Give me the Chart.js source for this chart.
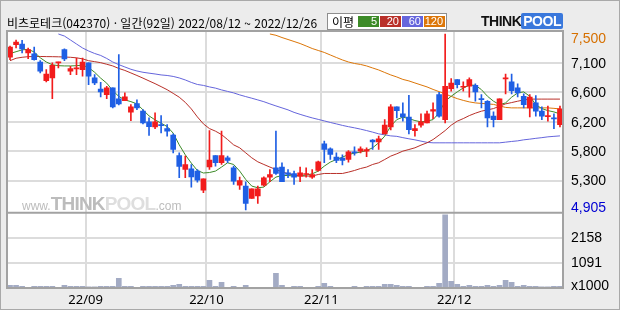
<!DOCTYPE html>
<html lang="ko">
<head>
<meta charset="utf-8">
<title>비츠로테크 일간</title>
<script src="https://cdn.jsdelivr.net/npm/chart.js@4.4.1/dist/chart.umd.min.js"></script>
<style>
  html, body { margin: 0; padding: 0; }
  body {
    width: 620px; height: 310px; overflow: hidden; position: relative;
    background: #ececec;
    font-family: "Noto Sans CJK KR", "Noto Sans", sans-serif;
  }
  #chart { position: absolute; left: 0; top: 0; }
  .frame {
    position: absolute; left: 0; top: 0; width: 620px; height: 310px;
    box-sizing: border-box; border: 1px solid #a9a9a9; pointer-events: none;
  }
  #title {
    position: absolute; left: 7px; top: 14px; font-size: 12px; line-height: 17px;
    color: #000; white-space: nowrap;
  }
  #ma {
    position: absolute; left: 327px; top: 13px; width: 118px; height: 15px;
    border: 1px solid #8e8e8e; background: #fff; font-size: 12px; line-height: 15px;
  }
  #ma .lbl { position: absolute; left: 4px; top: 0; }
  #ma .box {
    position: absolute; top: 2px; width: 21px; height: 11px; color: #fff;
    font: 11px/11px "Liberation Sans", sans-serif; text-align: right;
    box-sizing: border-box; padding-right: 2px;
  }
  #logo { position: absolute; left: 481px; top: 13px; height: 16px; white-space: nowrap;
    font: bold 14px/16px "Liberation Sans", sans-serif; letter-spacing: -0.5px; }
  #logo .think { color: #111; }
  #logo .pool { color: #fff; background: #3a78dc; padding: 0 2px; border-radius: 2px; }
  #mark { position: absolute; left: 22px; top: 193px; white-space: nowrap;
    font-family: "Liberation Sans", sans-serif; color: #bcbcbc; }
  #mark .s { font-size: 12px; }
  #mark .b { font-size: 19px; font-weight: bold; letter-spacing: -0.8px; }
  #mark .l { color: #dedede; }
</style>
</head>
<body>
<canvas id="chart" width="620" height="310"></canvas>
<div id="mark"><span class="s">www.</span><span class="b">THINK</span><span class="b l">POOL</span><span class="s">.com</span></div>
<div id="title">비츠로테크(042370) · 일간(92일) 2022/08/12 ~ 2022/12/26</div>
<div id="ma"><span class="lbl">이평</span></div>
<div id="logo"><span class="think">THINK</span><span class="pool">POOL</span></div>
<div class="frame"></div>
<script>
// trading days 2022/08/12 ~ 2022/12/26
const days = [
  '08/12','08/16','08/17','08/18','08/19','08/22','08/23','08/24','08/25','08/26','08/29','08/30','08/31',
  '09/01','09/02','09/05','09/06','09/07','09/08','09/13','09/14','09/15','09/16','09/19','09/20','09/21',
  '09/22','09/23','09/26','09/27','09/28','09/29','09/30',
  '10/04','10/05','10/06','10/07','10/11','10/12','10/13','10/14','10/17','10/18','10/19','10/20','10/21',
  '10/24','10/25','10/26','10/27','10/28','10/31',
  '11/01','11/02','11/03','11/04','11/07','11/08','11/09','11/10','11/11','11/14','11/15','11/16','11/17',
  '11/18','11/21','11/22','11/23','11/24','11/25','11/28','11/29','11/30',
  '12/01','12/02','12/05','12/06','12/07','12/08','12/09','12/12','12/13','12/14','12/15','12/16','12/19',
  '12/20','12/21','12/22','12/23','12/26'
];

const open = [
  7148,7333,7343,7211,7197,7079,6805,6845,7065,7260,
  6943,6977,6966,7065,6845,6683,6600,6698,6537,6512,
  6342,6468,6357,6200,6126,6160,6101,6005,5706,5500,
  5511,5477,5198,5540,5706,5599,5672,5525,5272,5257,
  5075,5111,5272,5389,5525,5536,5452,5442,5404,5427,
  5389,5486,5877,5804,5682,5667,5647,5760,5770,5770,
  5931,5906,6024,6126,6420,6317,6269,6072,6151,6185,
  6357,6600,6233,6688,6820,6708,6723,6738,6541,6503,
  6283,6233,6830,6786,6698,6576,6405,6478,6357,6277,
  6258,6160
];
const high = [
  7314,7402,7397,7284,7299,7098,6966,7065,7079,7274,
  7016,7138,7138,7065,6893,6782,6723,6698,7186,6625,
  6453,6522,6380,6258,6332,6292,6160,6024,5745,5697,
  5574,5500,5364,6072,5706,6063,5697,5550,5389,5320,
  5217,5257,5393,5500,6063,5599,5500,5477,5536,5525,
  5500,5624,5917,5818,5745,5716,5779,5833,5833,5818,
  5940,5990,6233,6453,6420,6478,6591,6160,6317,6357,
  6478,6635,7490,6834,6820,6786,6845,6757,6600,6512,
  6346,6537,6903,6903,6757,6610,6600,6585,6420,6430,
  6317,6430
];
const low = [
  7113,7284,7211,7128,7104,6918,6786,6541,6991,7098,
  6893,6893,6870,6747,6747,6566,6541,6405,6449,6512,
  6219,6380,6170,5999,6101,6038,5990,5745,5379,5379,
  5242,5316,5159,5500,5550,5574,5599,5280,5207,4905,
  5075,5002,5257,5320,5427,5320,5379,5280,5320,5389,
  5368,5477,5599,5647,5599,5569,5609,5712,5745,5687,
  5794,5794,6024,6082,6258,6210,6024,5990,6122,6185,
  6248,6269,6185,6650,6698,6650,6562,6503,6405,6126,
  6126,6233,6610,6610,6566,6405,6273,6283,6233,6210,
  6101,6126
];
const close = [
  7299,7372,7270,7260,7113,6943,6903,7031,7079,7123,
  6981,6991,7079,6870,6771,6640,6698,6420,6464,6566,
  6420,6405,6185,6131,6200,6145,6063,5794,5544,5574,
  5393,5345,5364,5638,5599,5706,5632,5330,5339,5002,
  5217,5217,5379,5427,5442,5320,5427,5389,5452,5442,
  5427,5613,5794,5720,5632,5632,5760,5745,5804,5794,
  5906,5951,6151,6420,6365,6273,6087,6101,6200,6317,
  6380,6283,6723,6771,6746,6723,6820,6640,6527,6258,
  6233,6537,6845,6659,6625,6453,6562,6357,6283,6292,
  6244,6390
];
// volume, x1000 shares
const volume = [
  115,115,70,30,70,70,70,70,30,115,
  70,70,70,45,45,70,70,70,415,70,
  70,30,70,70,70,70,70,115,160,70,
  70,70,70,330,70,245,30,70,30,115,
  30,30,30,30,630,115,30,70,70,30,
  30,70,200,70,30,30,30,70,30,70,
  70,70,160,160,115,70,70,30,30,70,
  70,200,3150,285,160,70,115,70,70,115,
  70,115,330,245,70,115,70,70,45,45,
  70,70
];

// moving averages
const ma5 = [
  7204,7230,7257,7265,7226,7141,7079,7038,7025,7021,
  7021,7025,7032,6997,6928,6842,6768,6660,6573,6522,
  6497,6464,6376,6288,6229,6181,6131,6034,5862,5716,
  5594,5486,5449,5456,5477,5536,5599,5574,5477,5354,
  5257,5232,5242,5320,5389,5412,5412,5404,5412,5418,
  5437,5477,5550,5609,5647,5682,5720,5741,5756,5779,
  5819,5892,5990,6137,6233,6269,6248,6219,6200,6210,
  6233,6332,6503,6576,6640,6698,6738,6738,6673,6576,
  6503,6453,6478,6562,6625,6640,6576,6453,6395,6365,
  6346,6317
];
const ma20 = [
  7098,7134,7148,7157,7160,7160,7158,7157,7155,7152,
  7148,7140,7125,7098,7084,7069,7046,7021,6984,6955,
  6918,6881,6842,6801,6761,6717,6672,6618,6562,6486,
  6390,6273,6170,6101,6063,6013,5940,5862,5819,5745,
  5672,5613,5574,5536,5500,5467,5437,5418,5404,5404,
  5404,5427,5442,5442,5442,5442,5462,5486,5515,5536,
  5574,5599,5647,5697,5731,5770,5794,5819,5858,5892,
  5940,6005,6072,6151,6210,6248,6292,6327,6357,6376,
  6395,6430,6464,6483,6503,6522,6534,6534,6534,6534,
  6534,6534
];
const ma60 = [
  null,null,null,null,null,null,null,null,7490,7460,
  7402,7343,7285,7241,7204,7175,7131,7079,7040,7006,
  6972,6947,6928,6915,6903,6889,6881,6867,6845,6815,
  6779,6749,6735,6713,6695,6669,6647,6625,6596,6571,
  6547,6522,6496,6464,6434,6405,6376,6339,6310,6283,
  6258,6236,6214,6191,6170,6148,6129,6112,6093,6072,
  6049,6024,6009,5994,5987,5968,5951,5936,5917,5899,
  5892,5892,5892,5892,5892,5892,5892,5892,5892,5892,
  5892,5892,5902,5912,5921,5936,5946,5958,5968,5980,
  5987,5994
];
const ma120 = [
  null,null,null,null,null,null,null,null,null,null,
  null,null,null,null,null,null,null,null,null,null,
  null,null,null,null,null,null,null,null,null,null,
  null,null,null,null,null,null,null,null,null,null,
  null,null,null,7490,7471,7438,7409,7380,7350,7314,
  7277,7248,7219,7182,7145,7109,7079,7057,7043,7021,
  6991,6962,6925,6889,6859,6823,6801,6771,6742,6713,
  6676,6644,6610,6574,6541,6515,6493,6478,6471,6464,
  6456,6434,6412,6405,6405,6405,6405,6405,6405,6405,
  6398,6390
];

const maPeriods = [5, 20, 60, 120];
const maColors = ['#3d8b28', '#b93029', '#6565dc', '#dc7608'];

const monthStarts = ['09/01', '10/04', '11/01', '12/01'];
const monthLabels = ['22/09', '22/10', '22/11', '22/12'];
const priceLabels = ['4,905', '5,300', '5,800', '6,200', '6,600', '7,100', '7,500'];
const priceLow = 4905, priceHigh = 7500;
const volLabels = ['x1000', '1091', '2158'];
const volTicks = [0, 1091, 2158];

const UP = '#f21c1c', DOWN = '#1f5fe4';
const GRID = '#dcdcdc';
const NUM_FONT = '"Liberation Sans Narrow", "Liberation Sans", sans-serif';

// legend boxes
const maBox = document.getElementById('ma');
maPeriods.forEach((p, k) => {
  const b = document.createElement('span');
  b.className = 'box';
  b.style.left = (30 + k * 22) + 'px';
  b.style.background = maColors[k];
  b.textContent = p;
  maBox.appendChild(b);
});

const candleColor = close.map((c, i) => c >= open[i] ? UP : DOWN);
const monthIdx = monthStarts.map(d => days.indexOf(d));

const panes = {
  id: 'panes',
  beforeDraw(chart) {
    const { ctx, chartArea: a } = chart;
    ctx.save();
    ctx.fillStyle = '#fff';
    ctx.fillRect(a.left, a.top, a.width, a.height);
    ctx.restore();
  },
  afterDraw(chart) {
    const { ctx, chartArea: a, scales } = chart;
    ctx.save();
    ctx.strokeStyle = '#a2a2a2';
    ctx.lineWidth = 2;
    ctx.strokeRect(a.left, a.top, a.width, a.height);
    ctx.beginPath();
    ctx.moveTo(a.left, scales.yv.top);
    ctx.lineTo(a.right, scales.yv.top);
    ctx.stroke();
    ctx.restore();
  }
};

const maLine = (data, k) => ({
  type: 'line', data, yAxisID: 'y', order: 2,
  borderColor: maColors[k], borderWidth: 1, pointRadius: 0, tension: 0
});

new Chart(document.getElementById('chart'), {
  type: 'bar',
  data: {
    labels: days,
    datasets: [
      { data: close.map((c, i) => [open[i], c]), yAxisID: 'y', order: 0, grouped: false,
        backgroundColor: candleColor, barThickness: 5, minBarLength: 1 },
      { data: low.map((l, i) => [l, high[i]]), yAxisID: 'y', order: 1, grouped: false,
        backgroundColor: candleColor, barThickness: 1 },
      maLine(ma5, 0),
      maLine(ma20, 1),
      maLine(ma60, 2),
      maLine(ma120, 3),
      { data: volume, yAxisID: 'yv', order: 3, grouped: false,
        backgroundColor: '#a3abc4', barThickness: 5 }
    ]
  },
  options: {
    responsive: false,
    animation: false,
    events: [],
    layout: { padding: { left: 7, top: 31, right: 0, bottom: 0 } },
    plugins: { legend: { display: false }, tooltip: { enabled: false } },
    scales: {
      x: {
        type: 'category', offset: true,
        border: { display: false },
        grid: {
          offset: true, drawTicks: false, lineWidth: 2,
          color: c => monthIdx.includes(c.index) ? GRID : 'rgba(0,0,0,0)'
        },
        ticks: {
          autoSkip: false, maxRotation: 0, padding: 4, labelOffset: -3,
          color: '#000', font: { family: '"Noto Sans", sans-serif', size: 13 },
          callback: (v, i) => {
            const m = monthIdx.indexOf(i);
            return m >= 0 ? monthLabels[m] : '';
          }
        },
        afterFit: s => { s.height = 22; }
      },
      y: {
        position: 'right', stack: 'panes', stackWeight: 181.7,
        min: 4866, max: 7534,
        border: { display: false },
        grid: {
          drawTicks: false, lineWidth: 2,
          color: c => (c.index > 0 && c.index < priceLabels.length - 1) ? GRID : 'rgba(0,0,0,0)'
        },
        afterBuildTicks: s => {
          const step = (priceHigh - priceLow) / (priceLabels.length - 1);
          s.ticks = priceLabels.map((_, k) => ({ value: priceLow + k * step }));
          // keep the outer labels inside the pane
          s.ticks[0].value += 45;
          s.ticks[s.ticks.length - 1].value -= 65;
        },
        ticks: {
          autoSkip: false, padding: 8, labelOffset: 1,
          font: { family: NUM_FONT, size: 14 },
          color: c => c.index === priceLabels.length - 1 ? '#d67000'
            : c.index === 0 ? '#0000d2' : '#000',
          callback: (v, i) => priceLabels[i]
        },
        afterFit: s => { s.width = 57; }
      },
      yv: {
        position: 'right', stack: 'panes', stackWeight: 75.3,
        min: 0, max: 3240,
        border: { display: false },
        grid: {
          drawTicks: false, lineWidth: 2,
          color: c => c.index > 0 ? GRID : 'rgba(0,0,0,0)'
        },
        afterBuildTicks: s => {
          s.ticks = volTicks.map(v => ({ value: v }));
          s.ticks[0].value += 90;
        },
        ticks: {
          autoSkip: false, padding: 8,
          font: { family: NUM_FONT, size: 14 }, color: '#000',
          callback: (v, i) => volLabels[i]
        },
        afterFit: s => { s.width = 57; }
      }
    }
  },
  plugins: [panes]
});
</script>
</body>
</html>
